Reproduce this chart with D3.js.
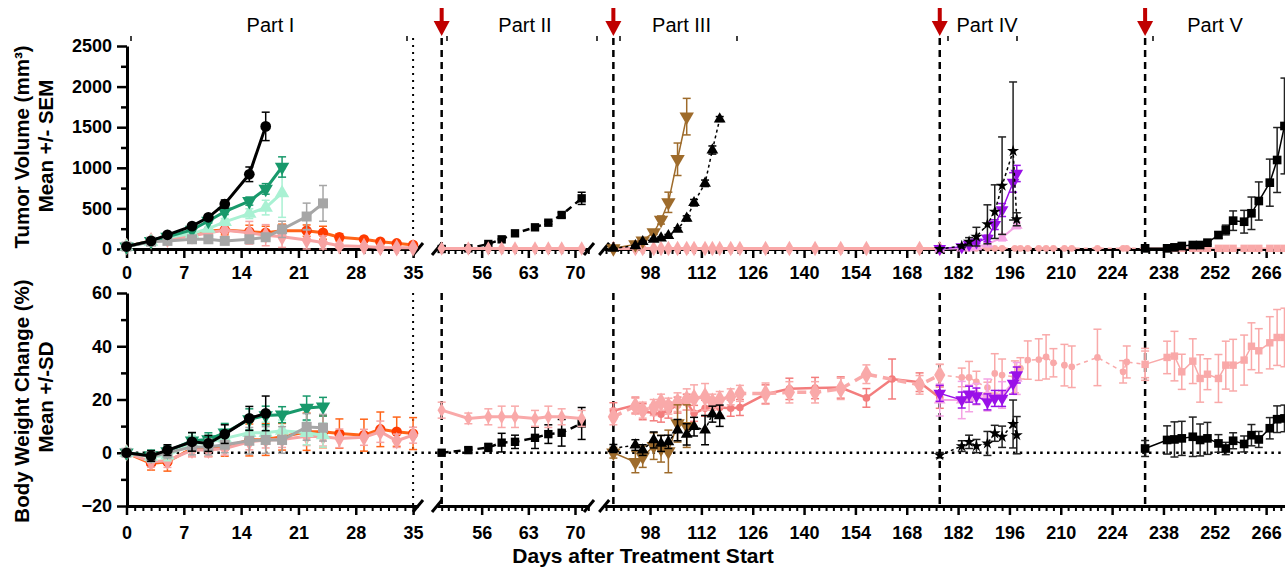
<!DOCTYPE html>
<html>
<head>
<meta charset="utf-8">
<script src="https://cdnjs.cloudflare.com/ajax/libs/d3/7.8.5/d3.min.js"></script>
<style>
body { margin: 0; background: #fff; }
svg { display: block; font-family: "Liberation Sans", Arial, sans-serif; }
</style>
</head>
<body>
<script>
// ---- ticks / labels ----
var tumorTicks = [0, 500, 1000, 1500, 2000, 2500];
var tumorMinor = [250, 750, 1250, 1750, 2250];
var bwTicks = [-20, 0, 20, 40, 60];
var bwMinor = [-10, 10, 30, 50];
var seg1Ticks = [0, 7, 14, 21, 28, 35];
var seg2Ticks = [56, 63, 70];
var seg3Ticks = [98, 112, 126, 140, 154, 168, 182, 196, 210, 224, 238, 252, 266];
var partNames = ["Part I", "Part II", "Part III", "Part IV", "Part V"];
var partStartDays = [50, 88, 177, 233];   // dashed lines + red arrows

// ---- Part I ----
var blackDaysI = [0, 3, 5, 8, 10, 12, 15, 17];
var blackTumorI = [30, 100, 175, 282, 390, 554, 920, 1510];
var blackTumorSemI = [5, 8, 12, 20, 30, 50, 90, 175];
var blackBwI = [0, -1.2, 1, 4.1, 3.5, 7, 12.9, 14.8];
var blackBwSdI = [0.5, 2, 2, 3.5, 3, 3.5, 4.5, 6.5];

var tumorDaysI19 = [0, 3, 5, 8, 10, 12, 15, 17, 19];
var bwDaysI24 = [0, 3, 5, 8, 10, 12, 15, 17, 19, 22, 24];
var greenTumorI = [30, 95, 150, 235, 345, 460, 590, 740, 1010];
var greenTumorSemI = [5, 8, 10, 15, 25, 35, 50, 65, 125];
var greenBwI = [0, -1, 0.5, 4.5, 5, 7.5, 12.5, 14, 14.3, 16.8, 17.3];
var greenBwSdI = [0.5, 2, 2, 3, 2.5, 3.5, 4, 3.5, 3, 4.5, 3.5];

var mintTumorI = [30, 90, 140, 190, 250, 335, 435, 510, 690];
var mintTumorSemI = [5, 8, 10, 15, 25, 40, 60, 90, 300];
var mintBwI = [0, -1.5, -1, 3.5, 3.8, 5.4, 7.5, 7.5, 8.3, 7.5, 6.6];
var mintBwSdI = [0.5, 2, 2, 3, 3, 3.5, 4, 4, 4, 4.5, 4.5];

var grayTumorI = [30, 90, 100, 120, 120, 100, 120, 145, 242, 400, 562];
var grayTumorSemI = [5, 8, 10, 15, 20, 15, 20, 30, 100, 165, 220];
var grayBwI = [0, -1.5, 0, 2.2, 2.2, 3, 4.5, 4.8, 4.8, 9.7, 9.4];
var grayBwSdI = [0.5, 2, 2, 3, 3, 3, 5, 5, 5, 5, 5];

var daysI35 = [0, 3, 5, 8, 10, 12, 15, 17, 19, 22, 24, 26, 29, 31, 33, 35];
var orangeTumorI = [30, 100, 130, 170, 222, 234, 213, 200, 226, 226, 200, 144, 119, 90, 70, 50];
var orangeTumorSemI = [5, 10, 15, 25, 40, 60, 80, 80, 80, 70, 80, 45, 30, 20, 15, 10];
var orangeBwI = [0, -4, -3.4, 1.6, 1.6, 2.2, 4.8, 5, 6, 7.9, 7.9, 7.2, 6.6, 8.8, 7.9, 7.2];
var orangeBwSdI = [0.5, 2.5, 3.5, 3, 3, 3.5, 6, 6, 5, 7, 6, 5.5, 6, 6.5, 5.5, 6];
var pinkTumorI = [30, 100, 120, 160, 200, 230, 200, 170, 150, 110, 80, 40, 30, 20, 15, 15];
var pinkTumorSemI = [5, 10, 15, 25, 60, 120, 140, 130, 130, 130, 80, 30, 20, 10, 8, 8];
var pinkBwI = [0, -3.4, -3, 1, 1, 1.6, 4.1, 4.8, 5, 6.2, 6, 5.4, 5.8, 7.9, 4.5, 6.6];
var pinkBwSdI = [0.5, 2, 2.5, 2.5, 2.5, 2.5, 3, 3, 3, 3.5, 3.5, 3.5, 3, 4, 2.5, 3];

// ---- Part II ----
var daysII = [50, 54, 57, 59, 61, 64, 66, 68, 71];
var squareTumorII = [0, 8, 62, 119, 193, 267, 324, 419, 624];
var squareTumorSemII = [0, 3, 5, 8, 10, 15, 20, 30, 75];
var squareBwII = [0, 1, 2, 3.8, 4.1, 5.6, 7, 7.5, 11];
var squareBwSdII = [0.5, 1, 1.5, 3.5, 2.5, 4, 3.5, 5, 6];
var pinkTumorII = [6, 6, 6, 6, 6, 6, 6, 6, 6];
var pinkBwII = [16, 12.9, 13.5, 13.5, 13.5, 12.9, 13.5, 13.5, 12.9];
var pinkBwSdII = [3, 2, 3, 4, 4, 3, 4, 3, 3];

// ---- Part III ----
var brownDaysIII = [88, 94, 96, 99, 101, 103, 105.5, 108];
var brownTumorIII = [8, 57, 102, 205, 357, 575, 1105, 1630];
var brownTumorSemIII = [2, 10, 15, 25, 50, 125, 200, 225];
var brownBwIII = [0, -3.5, -1.5, 2.5, 1.5, 0.5, 11, 10];
var brownBwSdIII = [2, 4, 4, 5, 5, 8, 7, 8];

var triDaysIII = [88, 94, 96, 99, 101, 103, 105.5, 108, 110, 113, 115, 117];
var triTumorIII = [8, 40, 90, 120, 135, 164, 242, 378, 570, 809, 1219, 1601];
var triTumorSemIII = [2, 5, 8, 10, 12, 15, 20, 30, 40, 40, 50, 30];
var triBwIII = [1.6, 2.9, 1, 4.8, 3.5, 4.1, 8.5, 6.9, 9.8, 8.5, 14.5, 13.9];
var triBwSdIII = [1.5, 2, 2, 3, 3, 2.5, 4, 4, 3.5, 5.5, 3, 4];

var salmonDaysIII = [88, 94, 96, 99, 101, 103, 105.5, 108, 110, 113, 115, 117, 120, 122.5, 129.5, 136, 143, 150, 157, 164, 171.5, 177];
var salmonBwIII = [15.8, 17.9, 15.4, 15, 14.5, 16, 17.9, 19, 14.8, 16.7, 17.5, 17, 16.7, 17, 22, 24, 24.3, 24.5, 20.6, 27.7, 26.5, 20.7];
var salmonBwSdIII = [3, 3, 3, 3, 3, 3, 3, 3, 3, 3, 3, 3, 3, 3, 3.5, 4, 4, 4, 3.5, 7.5, 3.5, 4];

var diamondDaysIII = [88, 94, 96, 99, 101, 103, 105.5, 108, 110, 113, 115, 117, 120, 122.5, 129.5, 136, 143, 150, 157, 171.5, 177];
var diamondTumorIII = [6, 6, 6, 6, 6, 6, 6, 6, 6, 6, 6, 6, 6, 6, 6, 6, 6, 6, 6, 6, 6];
var diamondBwIII = [13.5, 17.5, 16, 17, 19, 17.5, 19, 20, 20.5, 21, 19, 20, 21, 22.3, 22.2, 22.7, 22.7, 24, 29.5, 25.5, 29.2];
var diamondBwSdIII = [3, 3, 3, 3, 3, 3, 3.5, 4, 5, 5, 3, 3, 3, 3, 4, 4, 4, 4, 3.5, 3.5, 4];

// ---- Part IV ----
var daysIV = [177, 183, 185, 187, 190, 192, 194, 197, 198];
var starTumorIV = [0, 37, 90, 152, 304, 460, 780, 1207, 366];
var starTumorSemIV = [0, 15, 50, 115, 240, 330, 600, 850, 80];
var starBwIV = [-0.9, 2.5, 4.1, 2.5, 3.5, 7.3, 6, 10.8, 6.6];
var starBwSdIV = [1, 2, 2.5, 2.5, 4.5, 3, 4, 9, 7];
var purpleTumorIV = [5, 25, 55, 85, 130, 300, 480, 820, 930];
var purpleTumorSemIV = [3, 10, 15, 20, 40, 60, 80, 120, 100];
var purpleBwIV = [22.3, 19.8, 22, 21.3, 19.1, 20.4, 20.4, 26, 29.2];
var purpleBwSdIV = [3, 3, 3, 3, 3, 3, 3, 4, 3];
var lilacDaysIV = [177, 183, 185, 187, 190, 194, 198];
var lilacTumorIV = [0, 10, 15, 25, 60, 140, 290];
var lilacTumorSemIV = [2, 5, 5, 10, 20, 40, 40];
var lilacBwIV = [19.8, 19.8, 20.4, 22, 21.7, 21.7, 27.9];
var lilacBwSdIV = [6, 7, 5, 4, 6, 5, 6];

var dotDaysIV = [177, 183, 185, 187, 190, 192, 194, 197.5, 199, 201, 204, 206, 208, 211, 213, 220, 227, 228, 233];
var dotTumorIV = [8, 8, 8, 8, 8, 8, 8, 8, 8, 8, 8, 8, 8, 8, 8, 8, 8, 8, 8];
var dotBwIV = [29.2, 28.3, 28.3, 26.6, 24.5, 29.8, 29.2, 28.5, 31.7, 34.8, 35, 36, 33.8, 32.9, 32.3, 35.8, 30.4, 34.1, 33.2];
var dotBwSdIV = [4, 3.5, 6, 4, 2, 7.4, 6, 6, 4, 7.2, 7.8, 8.3, 5.3, 7.8, 7.8, 10.6, 4.2, 6, 6];

// ---- Part V ----
var daysV = [233, 239, 241, 243, 246, 248, 250, 253, 255, 257, 260, 262, 264, 267, 269, 271];
var squareTumorV = [8, 8, 20, 37, 49, 49, 78, 172, 234, 349, 336, 440, 591, 817, 1096, 1515];
var squareTumorSemV = [2, 3, 5, 8, 10, 10, 20, 40, 60, 120, 140, 200, 235, 290, 400, 590];
var squareBwV = [1.6, 4.8, 5, 5.4, 6, 4.8, 5.4, 3.5, 1.6, 4.5, 3.3, 6.6, 5, 9.2, 12.6, 12.9];
var squareBwSdV = [3, 5.3, 6.6, 6.4, 7.4, 6, 6, 3.3, 2.3, 3, 3, 4, 3, 4, 5, 5];
var pinkTumorV = [8, 8, 8, 8, 8, 8, 8, 8, 8, 8, 8, 8, 8, 8, 8, 8];
var pinkBwV = [33.2, 35.8, 36.3, 30.4, 34.4, 27.9, 29.5, 27.9, 32.9, 32.9, 34.8, 40, 38.3, 41.3, 43.3, 43.3];
var pinkBwSdV = [5, 6.1, 9.3, 6.6, 8.4, 8.9, 5.8, 9, 9, 9.7, 9.4, 8.8, 8.3, 9.8, 10.5, 11];

// ---- layout ----
var W = 1285, H = 568;
var svg = d3.select("body").append("svg").attr("width", W).attr("height", H);

// three x segments of the broken axis
var segs = [
    d3.scaleLinear().domain([0, 35.6]).range([126.5, 418]),
    d3.scaleLinear().domain([49.3, 72.1]).range([437, 589]),
    d3.scaleLinear().domain([85.5, 271.5]).range([604.2, 1286.3])
];
var segMajors = [seg1Ticks, seg2Ticks, seg3Ticks];
var segMinors = [d3.range(1, 36), d3.range(50, 73), d3.range(86, 272, 2)];

var yT = d3.scaleLinear().domain([0, 2500]).range([249, 46]);
var yB = d3.scaleLinear().domain([-20, 60]).range([506, 293]);

function xDay(d) {
    if (d <= 36) return segs[0](d);
    if (d <= 73) return segs[1](d);
    return segs[2](d);
}

// ---- axes ----
function styleAxis(g, w) {
    g.select(".domain").attr("stroke", "#000").attr("stroke-width", 3);
    g.selectAll(".tick line").attr("stroke", "#000").attr("stroke-width", w);
    g.selectAll(".tick text").attr("font-size", "18px").attr("font-weight", "bold")
        .attr("fill", "#000").attr("font-family", "'Liberation Sans', Arial, sans-serif");
}

function drawPanel(y, majors, minors, axisY, pad) {
    var gy = svg.append("g").attr("transform", "translate(127,0)")
        .call(d3.axisLeft(y).tickValues(majors).tickFormat(d3.format("d")).tickSize(10).tickPadding(5).tickSizeOuter(0));
    styleAxis(gy, 2.5);
    var gym = svg.append("g").attr("transform", "translate(127,0)")
        .call(d3.axisLeft(y).tickValues(minors).tickSize(6).tickFormat("").tickSizeOuter(0));
    styleAxis(gym, 2.5);
    gym.select(".domain").remove();

    segs.forEach(function (s, i) {
        var mins = segMinors[i].filter(function (d) {
            return segMajors[i].indexOf(d) < 0 && d >= s.domain()[0] && d <= s.domain()[1];
        });
        var gx = svg.append("g").attr("transform", "translate(0," + axisY + ")")
            .call(d3.axisBottom(s).tickValues(segMajors[i]).tickSize(9).tickPadding(pad).tickSizeOuter(0));
        styleAxis(gx, 2.5);
        var gxm = svg.append("g").attr("transform", "translate(0," + axisY + ")")
            .call(d3.axisBottom(s).tickValues(mins).tickSize(5).tickFormat("").tickSizeOuter(0));
        styleAxis(gxm, 2);
        gxm.select(".domain").remove();
    });

    // break marks  //
    var ends = [segs[0].range()[1], segs[1].range()[0], segs[1].range()[1], segs[2].range()[0]];
    ends.forEach(function (x) {
        svg.append("line").attr("x1", x - 5).attr("y1", axisY + 6).attr("x2", x + 5).attr("y2", axisY - 6)
            .attr("stroke", "#000").attr("stroke-width", 3);
    });
}

drawPanel(yT, tumorTicks, tumorMinor, 249, 8);
drawPanel(yB, bwTicks, bwMinor, 506, 11);

// ---- reference lines ----
var refs = svg.append("g");
[[38, 249], [293, 506]].forEach(function (r) {
    partStartDays.forEach(function (d) {
        refs.append("line").attr("x1", xDay(d)).attr("x2", xDay(d)).attr("y1", r[0]).attr("y2", r[1])
            .attr("stroke", "#000").attr("stroke-width", 2.5).attr("stroke-dasharray", "7,5");
    });
    refs.append("line").attr("x1", segs[0](35)).attr("x2", segs[0](35)).attr("y1", r[0]).attr("y2", r[1])
        .attr("stroke", "#000").attr("stroke-width", 2).attr("stroke-dasharray", "2,5");
});
refs.append("line").attr("x1", 129).attr("x2", W).attr("y1", yB(0)).attr("y2", yB(0))
    .attr("stroke", "#000").attr("stroke-width", 2.5).attr("stroke-dasharray", "2.5,4.3");

// little bracket ends above the plot
[131, 407, 447, 597, 620, 737, 948, 1017, 1153].forEach(function (x) {
    refs.append("line").attr("x1", x).attr("x2", x).attr("y1", 36).attr("y2", 41)
        .attr("stroke", "#000").attr("stroke-width", 1.5);
});

// part labels + red arrows
var partX = [270.5, 525, 681.5, 987, 1215];
partNames.forEach(function (p, i) {
    svg.append("text").attr("x", partX[i]).attr("y", 32).attr("text-anchor", "middle")
        .attr("font-size", "20px").attr("fill", "#000").text(p);
});
partStartDays.forEach(function (d) {
    var x = xDay(d);
    svg.append("rect").attr("x", x - 2).attr("y", 8).attr("width", 4).attr("height", 14).attr("fill", "#c00000");
    svg.append("path").attr("d", "M" + (x - 8) + ",21L" + (x + 8) + ",21L" + x + ",36Z").attr("fill", "#c00000");
});

// ---- series ----
function drawSeries(o) {
    var g = svg.append("g");
    var pts = o.days.map(function (d, i) {
        return { x: xDay(d), v: o.vals[i], e: o.errs ? o.errs[i] : 0 };
    });
    var ec = o.errColor || o.color;
    pts.forEach(function (p) {
        if (!p.e) return;
        var lo = o.y(Math.max(p.v - p.e, o.y.domain()[0])), hi = o.y(p.v + p.e);
        g.append("line").attr("x1", p.x).attr("x2", p.x).attr("y1", lo).attr("y2", hi)
            .attr("stroke", ec).attr("stroke-width", 1.5);
        [lo, hi].forEach(function (yy) {
            g.append("line").attr("x1", p.x - 4).attr("x2", p.x + 4).attr("y1", yy).attr("y2", yy)
                .attr("stroke", ec).attr("stroke-width", 1.5);
        });
    });
    var line = d3.line().x(function (p) { return p.x; }).y(function (p) { return o.y(p.v); });
    g.append("path").attr("d", line(pts)).attr("fill", "none").attr("stroke", o.color)
        .attr("stroke-width", o.lw).attr("stroke-dasharray", o.dash || null);
    g.selectAll("path.m").data(pts).enter().append("path").attr("class", "m")
        .attr("d", d3.symbol().type(o.symbol).size(o.size))
        .attr("transform", function (p) {
            return "translate(" + p.x + "," + o.y(p.v) + ")" + (o.flip ? " rotate(180)" : "");
        })
        .attr("fill", o.fill || o.color);
}

var C = {
    green: "#18996b", mint: "#a9f1d3", gray: "#a6a6a6", orange: "#ff6418", pink: "#f7a3a3",
    brown: "#9e6b2b", salmon: "#f37d7d", lightPink: "#f9a9a9", purple: "#9a10e8", lilac: "#f4a3e4"
};
var tri = d3.symbolTriangle, sq = d3.symbolSquare, ci = d3.symbolCircle, di = d3.symbolDiamond, st = d3.symbolStar;

function both(common, tDays, tVals, tErr, bDays, bVals, bErr) {
    drawSeries(Object.assign({}, common, { y: yT, days: tDays, vals: tVals, errs: tErr }));
    drawSeries(Object.assign({}, common, { y: yB, days: bDays, vals: bVals, errs: bErr }));
}

// Part I
both({ color: C.orange, fill: "#ff3a00", lw: 3, symbol: ci, size: 85 }, daysI35, orangeTumorI, orangeTumorSemI, daysI35, orangeBwI, orangeBwSdI);
both({ color: C.pink, lw: 3, symbol: di, size: 90 }, daysI35, pinkTumorI, pinkTumorSemI, daysI35, pinkBwI, pinkBwSdI);
both({ color: C.mint, lw: 3, symbol: tri, size: 90 }, tumorDaysI19, mintTumorI, mintTumorSemI, bwDaysI24, mintBwI, mintBwSdI);
both({ color: C.green, lw: 3, symbol: tri, size: 90, flip: true }, tumorDaysI19, greenTumorI, greenTumorSemI, bwDaysI24, greenBwI, greenBwSdI);
both({ color: C.gray, lw: 3, symbol: sq, size: 100 }, bwDaysI24, grayTumorI, grayTumorSemI, bwDaysI24, grayBwI, grayBwSdI);
both({ color: "#000", lw: 3, symbol: ci, size: 90 }, blackDaysI, blackTumorI, blackTumorSemI, blackDaysI, blackBwI, blackBwSdI);

// Part II
both({ color: "#000", lw: 2.5, dash: "7,5", symbol: sq, size: 70 }, daysII, squareTumorII, squareTumorSemII, daysII, squareBwII, squareBwSdII);
both({ color: C.lightPink, lw: 3, symbol: di, size: 60 }, daysII, pinkTumorII, null, daysII, pinkBwII, pinkBwSdII);

// Part III
drawSeries({ y: yT, days: diamondDaysIII, vals: diamondTumorIII, color: C.lightPink, lw: 3, symbol: di, size: 70 });
drawSeries({ y: yB, days: salmonDaysIII, vals: salmonBwIII, errs: salmonBwSdIII, color: C.salmon, lw: 2.5, symbol: ci, size: 45 });
drawSeries({ y: yB, days: diamondDaysIII, vals: diamondBwIII, errs: diamondBwSdIII, color: C.lightPink, lw: 3.5, dash: "9,6", symbol: di, size: 110 });
both({ color: C.brown, lw: 1.5, symbol: tri, size: 90, flip: true }, brownDaysIII, brownTumorIII, brownTumorSemIII, brownDaysIII, brownBwIII, brownBwSdIII);
both({ color: "#000", lw: 1.5, dash: "3,3", symbol: tri, size: 60 }, triDaysIII, triTumorIII, triTumorSemIII, triDaysIII, triBwIII, triBwSdIII);

// Part IV
both({ color: C.lightPink, lw: 1.5, dash: "4,4", symbol: ci, size: 35 }, dotDaysIV, dotTumorIV, dotTumorIV, dotDaysIV, dotBwIV, dotBwSdIV);
both({ color: C.lilac, lw: 2, symbol: tri, size: 60 }, lilacDaysIV, lilacTumorIV, lilacTumorSemIV, lilacDaysIV, lilacBwIV, lilacBwSdIV);
both({ color: C.purple, lw: 1.5, symbol: tri, size: 70, flip: true }, daysIV, purpleTumorIV, purpleTumorSemIV, daysIV, purpleBwIV, purpleBwSdIV);
both({ color: "#000", lw: 1.5, dash: "3,3", symbol: st, size: 45, errColor: "#222" }, daysIV, starTumorIV, starTumorSemIV, daysIV, starBwIV, starBwSdIV);

// Part V
both({ color: C.lightPink, lw: 1.5, symbol: sq, size: 55 }, daysV, pinkTumorV, null, daysV, pinkBwV, pinkBwSdV);
both({ color: "#000", lw: 1.5, symbol: sq, size: 75, errColor: "#222" }, daysV, squareTumorV, squareTumorSemV, daysV, squareBwV, squareBwSdV);

// ---- axis titles ----
function vTitle(x, y, txt) {
    svg.append("text").attr("transform", "translate(" + x + "," + y + ") rotate(-90)")
        .attr("text-anchor", "middle").attr("font-size", "20.5px").attr("font-weight", "bold").text(txt);
}
vTitle(29, 147, "Tumor Volume (mm³)");
vTitle(53, 146, "Mean +/- SEM");
vTitle(29, 401, "Body Weight Change (%)");
vTitle(53, 397, "Mean +/-SD");
svg.append("text").attr("x", 643).attr("y", 563).attr("text-anchor", "middle")
    .attr("font-size", "21px").attr("font-weight", "bold").text("Days after Treatment Start");
</script>
</body>
</html>
